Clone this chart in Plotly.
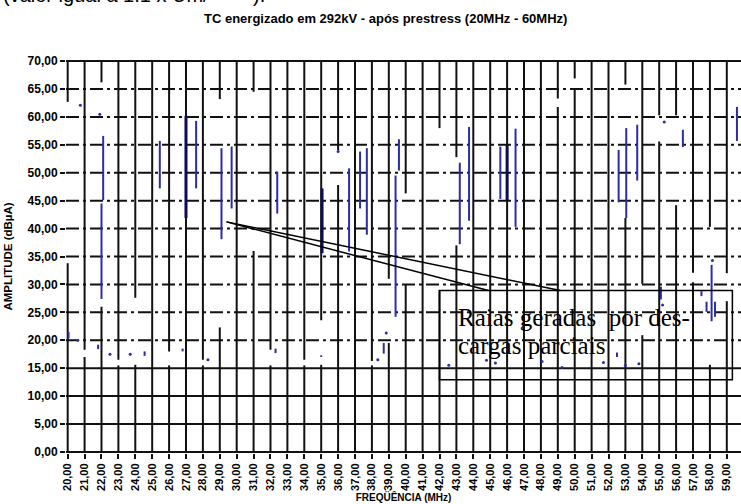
import plotly.graph_objects as go

# ---- data -------------------------------------------------------------
freq_ticks = list(range(20, 61))                      # MHz, one gridline per MHz
amp_ticks = list(range(0, 75, 5))                     # dBuA

# stretches of each MHz gridline hidden by the white noise band (MHz, low, high)
gap_freq = [20, 21, 22, 23, 24, 26, 28, 29, 31, 32, 34, 35, 36, 38, 39, 40, 42, 43,
            49, 50, 53, 54, 55, 56, 57, 58, 59]
gap_low = [33.8, 17.0, 26.0, 15.5, 15.6, 15.5, 15.5, 22.3, 36.0, 15.5, 15.5, 15.6, 47.8, 15.5,
           19.5, 30.0, 29.0, 37.0, 61.8, 65.2, 41.9, 20.9, 55.6, 44.2, 30.4, 15.6, 27.0]
gap_high = [62.7, 18.3, 66.2, 16.5, 27.6, 18.0, 16.5, 63.2, 64.5, 18.3, 16.5, 23.6, 54.0, 16.3,
            31.0, 46.3, 58.0, 52.8, 63.3, 66.9, 65.8, 30.1, 60.3, 60.3, 32.1, 40.3, 32.0]

# spectral lines (MHz, min, max) in dBuA
line_freq = [22.1, 22.0, 25.45, 27.6, 29.1, 29.7, 32.4, 36.65, 37.3, 37.7, 39.6, 39.4,
             43.2, 43.75, 45.6, 46.5, 52.6, 53.05, 53.7, 56.4, 59.6, 58.1, 57.5, 57.8,
             58.3, 55.1, 38.7, 21.8, 24.55, 26.8, 32.3, 35.0, 20.05, 52.5]
line_min = [45.1, 27.4, 47.2, 47.2, 38.1, 43.6, 42.7, 35.9, 43.6, 38.9, 50.4, 24.2,
            37.2, 41.4, 45.3, 40.3, 44.7, 41.9, 48.6, 54.6, 55.7, 23.4, 27.9, 25.1,
            24.2, 27.3, 17.6, 18.4, 17.2, 18.0, 17.7, 17.0, 20.3, 17.0]
line_max = [56.6, 44.5, 55.7, 59.3, 54.4, 54.7, 50.2, 50.8, 53.8, 54.4, 56.0, 49.5,
            51.8, 58.2, 54.7, 57.9, 54.1, 58.0, 58.6, 57.7, 61.8, 33.5, 28.8, 26.9,
            26.9, 29.6, 19.5, 19.2, 18.0, 18.5, 18.5, 17.3, 21.5, 17.8]

# strongest discharge lines
strong_freq = [27.0, 35.05, 46.0]
strong_min = [41.9, 35.6, 45.1]
strong_max = [60.2, 47.2, 55.0]

# isolated spectral points
dot_freq = [20.75, 21.9, 36.0, 55.3, 58.15, 55.2, 22.5, 23.7, 28.3, 38.35, 38.85,
            42.55, 44.78, 45.31, 48.07, 49.25, 51.7, 53.0, 53.8, 20.6]
dot_amp = [62.1, 60.5, 53.8, 59.1, 34.3, 26.3, 17.5, 17.5, 16.5, 16.5, 21.3,
           15.5, 16.4, 15.9, 16.2, 15.1, 16.0, 15.5, 15.8, 20.0]

X_MIN, X_MAX = 19.9, 59.84
Y_MIN, Y_MAX = -0.2, 70.2


def segments(xs, lows, highs):
    px, py = [], []
    for x, lo, hi in zip(xs, lows, highs):
        px += [x, x, None]
        py += [lo, hi, None]
    return px, py


fig = go.Figure()

# horizontal grid: solid in the lower part, dash-dot above 15 dBuA
for a in amp_ticks:
    solid = a <= 15 or a == 70
    fig.add_trace(go.Scatter(
        x=[X_MIN, X_MAX], y=[a, a], mode="lines", hoverinfo="skip",
        line=dict(color="#111111", width=2,
                  dash="solid" if solid else "13px,4px,3px,4px")))

# vertical MHz gridlines, interrupted where the noise band covers them
gv_x, gv_y = [], []
for f in freq_ticks:
    if f in gap_freq:
        i = gap_freq.index(f)
        gv_x += [f, f, None, f, f, None]
        gv_y += [0, gap_low[i], None, gap_high[i], 70, None]
    else:
        gv_x += [f, f, None]
        gv_y += [0, 70, None]
fig.add_trace(go.Scatter(x=gv_x, y=gv_y, mode="lines", hoverinfo="skip",
                         line=dict(color="#111111", width=2)))

lx, ly = segments(line_freq, line_min, line_max)
fig.add_trace(go.Scatter(x=lx, y=ly, mode="lines",
                         line=dict(color="#2c2ca6", width=2)))
sx, sy = segments(strong_freq, strong_min, strong_max)
fig.add_trace(go.Scatter(x=sx, y=sy, mode="lines",
                         line=dict(color="#0c0c55", width=3)))
fig.add_trace(go.Scatter(x=dot_freq, y=dot_amp, mode="markers",
                         marker=dict(color="#2c2ca6", size=3)))

# callout: box with the comment and two leader lines
fig.add_shape(type="rect", x0=42.0, x1=59.33, y0=12.9, y1=28.9,
              line=dict(color="black", width=1.5), fillcolor="rgba(0,0,0,0)")
fig.add_shape(type="line", x0=29.4, y0=41.2, x1=44.9, y1=28.9,
              line=dict(color="black", width=1.5))
fig.add_shape(type="line", x0=29.4, y0=41.2, x1=49.15, y1=28.9,
              line=dict(color="black", width=1.5))
serif = dict(family="Liberation Serif, Times New Roman", size=25, color="black")
fig.add_annotation(x=42.95, y=24.0, xref="x", yref="y", xanchor="left", yanchor="middle",
                   text="Raias geradas  por des-", showarrow=False, font=serif)
fig.add_annotation(x=42.95, y=19.0, xref="x", yref="y", xanchor="left", yanchor="middle",
                   text="cargas parciais", showarrow=False, font=serif)

bold = "Liberation Sans, Arial"
fig.add_annotation(x=0.473, y=1.106, xref="paper", yref="paper",
                   xanchor="center", yanchor="middle",
                   text="<b>TC energizado em 292kV - após prestress (20MHz - 60MHz)</b>",
                   showarrow=False, font=dict(family=bold, size=13, color="black"))
fig.add_annotation(x=-0.097, y=1.132, xref="paper", yref="paper",
                   xanchor="left", yanchor="bottom",
                   text="(valor igual a 1.1 x Um/        ).", showarrow=False,
                   font=dict(family=bold, size=20, color="black"))

fig.update_layout(
    width=741, height=504,
    margin=dict(l=66, r=0, t=60, b=51),
    paper_bgcolor="white", plot_bgcolor="white",
    showlegend=False,
    xaxis=dict(range=[X_MIN, X_MAX], showgrid=False, zeroline=False, showline=False,
               tickmode="array", tickvals=freq_ticks,
               ticktext=[f"<b>{f},00</b>" for f in freq_ticks],
               tickangle=-90, ticks="outside", ticklen=5, tickwidth=2, tickcolor="#111111",
               tickfont=dict(family=bold, size=11, color="black"),
               title=dict(text="<b>FREQÜÊNCIA (MHz)</b>",
                          font=dict(family=bold, size=10, color="black"), standoff=2)),
    yaxis=dict(range=[Y_MIN, Y_MAX], showgrid=False, zeroline=False, showline=False,
               tickmode="array", tickvals=amp_ticks,
               ticktext=[f"<b>{a},00</b>" for a in amp_ticks],
               ticks="outside", ticklen=5, tickwidth=2, tickcolor="#111111",
               tickfont=dict(family=bold, size=12, color="black"),
               title=dict(text="<b>AMPLITUDE (dBµA)</b>",
                          font=dict(family=bold, size=11.5, color="black"), standoff=12)),
)

fig.write_html("out.html")
